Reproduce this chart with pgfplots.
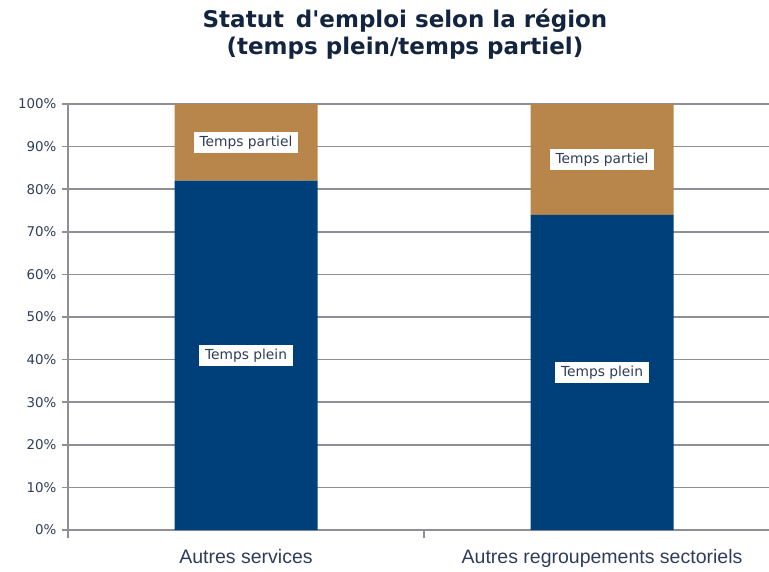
\documentclass[border=0pt]{standalone}
\usepackage{pgfplots}
\pgfplotsset{compat=1.18}
\usepackage{fontspec}
\setmainfont{DejaVu Sans}
\newfontfamily\catfont{Liberation Sans}
\definecolor{navy}{HTML}{00407A}
\definecolor{gold}{HTML}{B8864B}
\definecolor{gridgray}{HTML}{8E9096}
\definecolor{titlecol}{HTML}{13243F}
\definecolor{tickcol}{HTML}{2F3D5A}
\tikzset{lbl/.style={fill=white, text=tickcol, font=\fontsize{13.8}{16}\selectfont, inner xsep=6pt, inner ysep=4pt}}
\begin{document}
\begin{tikzpicture}
\begin{axis}[
  at={(68pt,41pt)}, anchor=south west,
  scale only axis, width=701pt, height=426pt,
  xmin=-0.5, xmax=1.469, ymin=0, ymax=100,
  ybar stacked, bar width=143pt,
  axis lines*=left,
  axis line style={gridgray, line width=1.6pt},
  xtick={0,1},
  xticklabels={Autres services, Autres regroupements sectoriels},
  xticklabel style={font=\catfont\fontsize{19.5}{22}\selectfont, text=tickcol, yshift=-10pt},
  minor xtick={-0.5,0.5},
  major tick length=6pt,
  minor tick length=8pt,
  ytick={0,10,...,100},
  yticklabels={0\%,10\%,20\%,30\%,40\%,50\%,60\%,70\%,80\%,90\%,100\%},
  yticklabel style={font=\fontsize{13.4}{15}\selectfont, text=tickcol, xshift=-2pt},
  tick align=outside,
  ytick style={gridgray, line width=1.6pt},
  major x tick style={draw=none},
  minor x tick style={gridgray, line width=1.6pt},
  ymajorgrids,
  major grid style={gridgray, line width=1.6pt},
  clip=false,
]
\addplot[fill=navy, draw=none] coordinates {(0,82) (1,74)};
\addplot[fill=gold, draw=none] coordinates {(0,18) (1,26)};
\coordinate (p1) at (axis cs:0,41);
\coordinate (p2) at (axis cs:1,37);
\coordinate (q1) at (axis cs:0,91);
\coordinate (q2) at (axis cs:1,87);
\end{axis}
\node[lbl] at (p1) {Temps plein};
\node[lbl] at (p2) {Temps plein};
\node[lbl] at (q1) {Temps partiel};
\node[lbl] at (q2) {Temps partiel};
\node[text=titlecol, font=\bfseries\fontsize{23}{27}\selectfont, align=center] at (405pt,537pt) {Statut\, d\textquotesingle emploi selon la région\\(temps plein/temps partiel)};
\pgfresetboundingbox
\path[use as bounding box] (0,0) rectangle (769pt,571pt);
\end{tikzpicture}
\end{document}
